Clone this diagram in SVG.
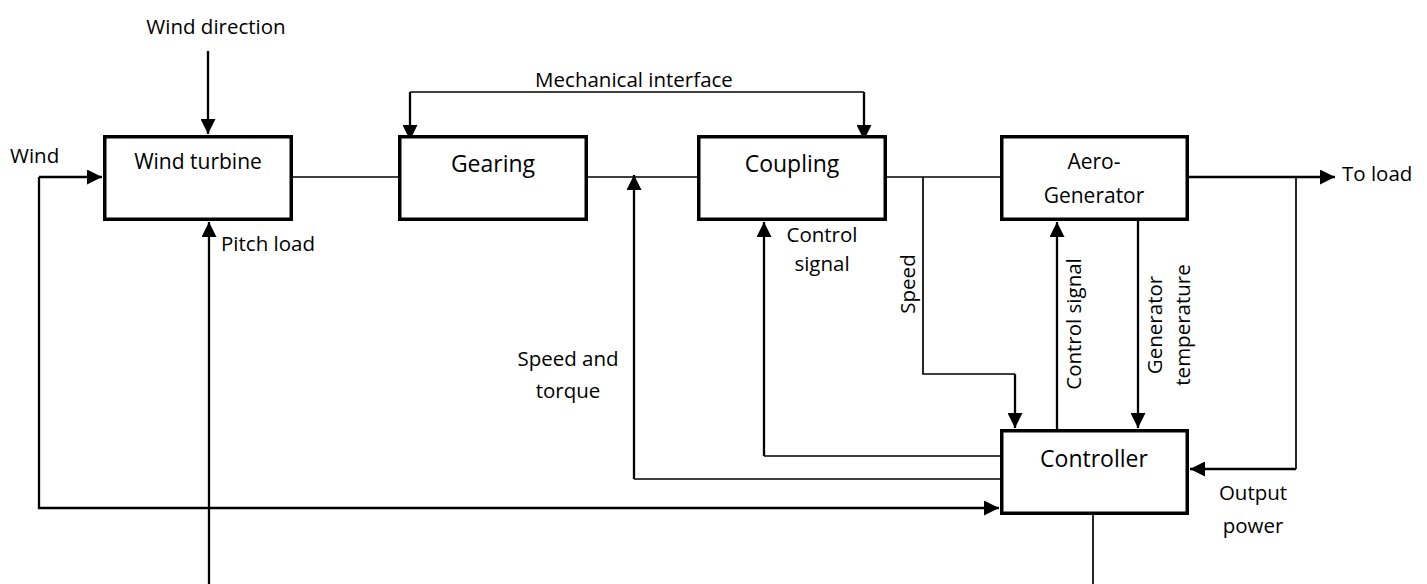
<svg xmlns="http://www.w3.org/2000/svg" width="1427" height="584" viewBox="0 0 1427 584">
<defs>
<style>
.box{fill:#fff;stroke:#000;stroke-width:3.5}
.t{font-family:"Open Sans","Noto Sans","DejaVu Sans",sans-serif;font-size:20.5px;fill:#000}
.m{text-anchor:middle}
.bt{font-size:23px}
.st{font-size:21px}
.ln{fill:none;stroke:#000;stroke-width:1.7}
.ar{fill:none;stroke:#000;stroke-width:2.3;marker-end:url(#ah)}
</style>
<marker id="ah" viewBox="0 0 16 16" refX="16" refY="8" markerWidth="16" markerHeight="15" orient="auto" markerUnits="userSpaceOnUse">
<path d="M0,0 L16,8 L0,16 z" fill="#000"/>
</marker>
</defs>
<rect width="1427" height="584" fill="#fff"/>
<g id="connectors">
<path class="ar" d="M208,51 V134"/>
<path class="ar" d="M39,177 H102"/>
<path class="ar" d="M39,177 V508 H999"/>
<path class="ar" d="M209,584 V222"/>
<path class="ln" d="M293,177 H398"/>
<path class="ln" d="M588,177 H697"/>
<path class="ln" d="M887,177 H1000"/>
<path class="ln" d="M410,92 H864"/>
<path class="ar" d="M410,92 V140"/>
<path class="ar" d="M864,92 V140"/>
<path class="ln" d="M1000,479 H634"/>
<path class="ar" d="M634,479 V175"/>
<path class="ln" d="M1000,456 H764"/>
<path class="ar" d="M764,456 V222"/>
<path class="ln" d="M923,177 V374 H1015"/>
<path class="ar" d="M1015,374 V428"/>
<path class="ar" d="M1057,429 V222"/>
<path class="ar" d="M1138,221 V428"/>
<path class="ar" d="M1189,177 H1335"/>
<path class="ln" d="M1296,177 V469"/>
<path class="ar" d="M1296,469 H1190"/>
<path class="ln" d="M1093,515 V584"/>
</g>
<g id="wind-turbine">
<rect class="box" x="104.75" y="136.75" width="186.5" height="82.5"/>
<text class="t st m" x="198" y="169">Wind turbine</text>
</g>
<g id="gearing">
<rect class="box" x="399.75" y="136.75" width="186.5" height="82.5"/>
<text class="t bt m" x="493" y="172">Gearing</text>
</g>
<g id="coupling">
<rect class="box" x="698.75" y="136.75" width="186.5" height="82.5"/>
<text class="t bt m" x="792" y="172">Coupling</text>
</g>
<g id="aero-generator">
<rect class="box" x="1001.75" y="136.75" width="185.5" height="82.5"/>
<text class="t st m" x="1094" y="169">Aero-</text>
<text class="t st m" x="1094" y="203">Generator</text>
</g>
<g id="controller">
<rect class="box" x="1001.75" y="430.75" width="185.5" height="82.5"/>
<text class="t bt m" x="1094" y="467">Controller</text>
</g>
<g id="labels">
<text class="t m" x="216" y="34">Wind direction</text>
<text class="t" x="10" y="163">Wind</text>
<text class="t" x="221" y="251">Pitch load</text>
<text class="t m" x="634" y="87">Mechanical interface</text>
<text class="t m" x="822" y="242">Control</text>
<text class="t m" x="822" y="271">signal</text>
<text class="t m" x="568" y="366">Speed and</text>
<text class="t m" x="568" y="398">torque</text>
<text class="t m" transform="translate(915,284) rotate(-90)">Speed</text>
<text class="t m" transform="translate(1081,324) rotate(-90)">Control signal</text>
<text class="t m" transform="translate(1162,325) rotate(-90)">Generator</text>
<text class="t m" transform="translate(1190,325) rotate(-90)">temperature</text>
<text class="t" x="1342" y="181">To load</text>
<text class="t m" x="1253" y="500">Output</text>
<text class="t m" x="1253" y="533">power</text>
</g>
</svg>
